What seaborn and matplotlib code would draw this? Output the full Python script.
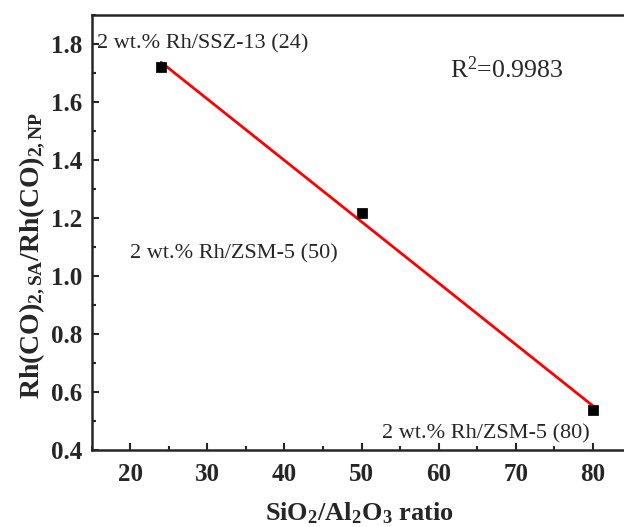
import numpy as np
import pandas as pd
import matplotlib
matplotlib.use("Agg")
import matplotlib.pyplot as plt
from matplotlib.ticker import MultipleLocator, FormatStrFormatter
import seaborn as sns

# data
ratio = [24, 50, 80]
rh_ratio = [1.72, 1.217, 0.538]
labels = ["2 wt.% Rh/SSZ-13 (24)", "2 wt.% Rh/ZSM-5 (50)", "2 wt.% Rh/ZSM-5 (80)"]
r2_text = "R$^{2}$=0.9983"

sns.set_style("ticks")
plt.rcParams["font.family"] = ["Liberation Serif", "DejaVu Serif"]
plt.rcParams["mathtext.fontset"] = "custom"
plt.rcParams["mathtext.rm"] = "Liberation Serif"
plt.rcParams["mathtext.it"] = "Liberation Serif:italic"
plt.rcParams["mathtext.bf"] = "Liberation Serif:bold"

df = pd.DataFrame({"ratio": ratio, "val": rh_ratio})

fig = plt.figure(figsize=(6.24, 5.27), dpi=100)
ax = fig.add_axes([0.147, 0.146, 0.865, 0.826])

sns.regplot(data=df, x="ratio", y="val", ax=ax, ci=None, truncate=True,
            scatter=False, line_kws={"color": "#ff0000", "lw": 2})
sns.scatterplot(data=df, x="ratio", y="val", ax=ax, marker="s", s=45,
                color="black", edgecolor="black", zorder=5)

ax.set_xlim(15, 85)
ax.set_ylim(0.4, 1.9)
ax.set_xticks(np.arange(20, 81, 10))
ax.set_yticks(np.arange(0.4, 1.81, 0.2))
ax.xaxis.set_minor_locator(MultipleLocator(5))
ax.yaxis.set_minor_locator(MultipleLocator(0.1))
ax.yaxis.set_major_formatter(FormatStrFormatter("%.1f"))

ax.tick_params(which="both", direction="in", width=1.5, top=False, right=False)
ax.tick_params(which="major", length=5, labelsize=18)
ax.tick_params(axis="y", which="major", pad=7)
ax.tick_params(axis="x", which="major", pad=9)
ax.tick_params(which="minor", length=3)
for lab in ax.get_xticklabels() + ax.get_yticklabels():
    lab.set_fontweight("bold")
for sp in ax.spines.values():
    sp.set_linewidth(1.8)
    sp.set_visible(True)

ax.set_xlabel(r"$\mathbf{SiO_2/Al_2O_3}$ ratio", fontsize=19, fontweight="bold")
ax.set_ylabel(r"$\mathbf{Rh(CO)_{2,SA}/Rh(CO)_{2,NP}}$", fontsize=20)
ax.xaxis.set_label_coords(0.496, -0.115)
ax.yaxis.set_label_coords(-0.083, 0.448)

ax.text(15.7, 1.80, labels[0], fontsize=16, ha="left", va="center")
ax.text(20.0, 1.075, labels[1], fontsize=16, ha="left", va="center")
ax.text(79.6, 0.455, labels[2], fontsize=16, ha="right", va="center")
ax.text(61.4, 1.71, r2_text, fontsize=18.5, ha="left", va="center")

fig.savefig("out.png", dpi=100)
